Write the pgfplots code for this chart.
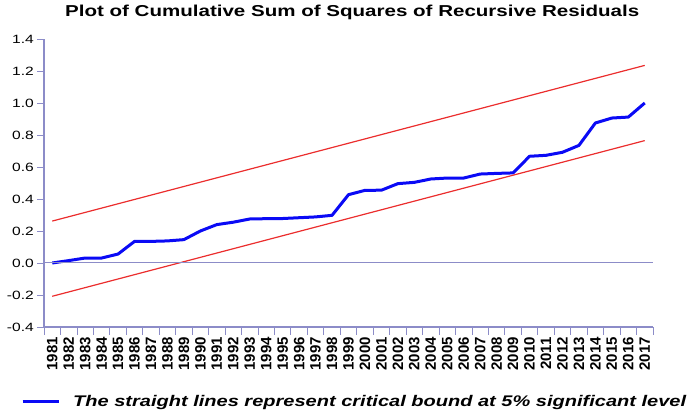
\documentclass[border=0pt]{standalone}
\usepackage{fontspec}
\setmainfont{Liberation Sans}[FakeStretch=1.3]
\newfontfamily\xlabfont{Liberation Sans}
\usepackage{pgfplots}
\pgfplotsset{compat=1.18}
\definecolor{axiscol}{RGB}{140,140,200}
\definecolor{cusumblue}{RGB}{10,10,245}
\definecolor{boundred}{RGB}{235,45,45}

\pgfplotstableread{
year cusumsq
1981 0.000
1982 0.015
1983 0.031
1984 0.031
1985 0.056
1986 0.135
1987 0.135
1988 0.138
1989 0.146
1990 0.200
1991 0.240
1992 0.255
1993 0.275
1994 0.277
1995 0.278
1996 0.283
1997 0.288
1998 0.298
1999 0.427
2000 0.454
2001 0.455
2002 0.496
2003 0.504
2004 0.525
2005 0.531
2006 0.531
2007 0.556
2008 0.560
2009 0.563
2010 0.667
2011 0.673
2012 0.692
2013 0.735
2014 0.875
2015 0.906
2016 0.912
2017 1.000
}\cusumdata

\begin{document}
\begin{tikzpicture}
\useasboundingbox (-44pt,-87pt) rectangle (647pt,327pt);
\begin{axis}[
    at={(0pt,0pt)}, anchor=south west,
    scale only axis,
    width=609pt, height=288pt,
    xmin=1980.5, xmax=2017.5,
    ymin=-0.4, ymax=1.4,
    axis lines*=left,
    axis line style={axiscol, line width=2pt},
    xtick={1981,1982,...,2017},
    minor xtick={1980.5,1981.5,...,2017.5},
    major x tick style={draw=none},
    ytick={-0.4,-0.2,0,0.2,0.4,0.6,0.8,1.0,1.2,1.4},
    tick align=outside,
    major tick length=7pt,
    minor tick length=8pt,
    tick style={axiscol, line width=0.8pt},
    /pgf/number format/assume math mode=true,
    xticklabel style={rotate=90, anchor=east, inner sep=0pt, xshift=-3pt,
        font=\xlabfont\bfseries\fontsize{15}{15}\selectfont,
        /pgf/number format/1000 sep={}},
    yticklabel style={font=\fontsize{12}{12}\selectfont, inner sep=3pt,
        /pgf/number format/fixed, /pgf/number format/fixed zerofill,
        /pgf/number format/precision=1},
    title={Plot of Cumulative Sum of Squares of Recursive Residuals},
    title style={at={(axis description cs:0.506,1)}, anchor=base, yshift=16pt,
        font=\bfseries\fontsize{15.8}{16}\selectfont},
    legend style={at={(axis description cs:-0.0378,-0.2604)}, anchor=west,
        draw=none, fill=none, inner sep=0pt, column sep=13pt,
        nodes={inner sep=0pt},
        font=\bfseries\itshape\fontsize{15.4}{16}\selectfont},
    legend image code/.code={\draw[#1] (0pt,0pt) -- (36pt,0pt);},
    clip=false,
]
\addplot[cusumblue, line width=3pt, line join=round] table[x=year, y=cusumsq] {\cusumdata};
\addlegendentry{The straight lines represent critical bound at 5\% significant level}
\addplot[boundred, line width=1.2pt, forget plot] coordinates {(1981,0.262) (2017,1.235)};
\addplot[boundred, line width=1.2pt, forget plot] coordinates {(1981,-0.208) (2017,0.765)};
\addplot[axiscol, line width=1pt, forget plot] coordinates {(1980.5,0) (2017.5,0)};
\end{axis}
\end{tikzpicture}
\end{document}
